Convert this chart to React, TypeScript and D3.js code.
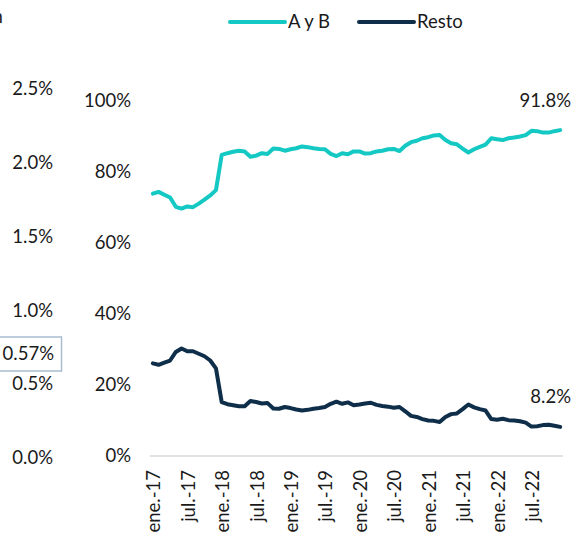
import * as d3 from 'd3';
import { useRef, useEffect } from 'react';

// share of total, Jan 2017 .. Dec 2022 (monthly)
const ayb = [
  73.9, 74.4, 73.6, 72.8, 70.2, 69.7, 70.3, 70.1, 71.1, 72.2, 73.4, 74.9,
  84.8, 85.3, 85.7, 86.0, 85.8, 84.3, 84.6, 85.3, 85.1, 86.6, 86.5, 86.0,
  86.4, 86.7, 87.2, 87.0, 86.7, 86.5, 86.4, 85.1, 84.5, 85.3, 85.0, 85.8,
  85.8, 85.2, 85.3, 85.8, 86.0, 86.4, 86.5, 85.9, 87.4, 88.4, 88.8, 89.5,
  89.8, 90.3, 90.4, 89.0, 88.1, 87.8, 86.6, 85.5, 86.4, 87.1, 87.7, 89.5,
  89.2, 89.0, 89.5, 89.7, 90.0, 90.4, 91.6, 91.5, 91.1, 91.1, 91.5, 91.8,
];
const resto = [
  26.1, 25.7, 26.3, 26.9, 29.3, 30.3, 29.5, 29.5, 28.8, 28.1, 26.9, 24.7,
  15.2, 14.6, 14.3, 14.0, 14.0, 15.5, 15.2, 14.8, 14.9, 13.4, 13.3, 13.8,
  13.5, 13.1, 12.8, 13.0, 13.3, 13.5, 13.8, 14.7, 15.3, 14.7, 15.1, 14.3,
  14.5, 14.8, 15.0, 14.4, 14.1, 13.9, 13.6, 13.8, 12.6, 11.3, 11.0, 10.4,
  10.0, 9.9, 9.6, 11.0, 11.8, 12.0, 13.2, 14.5, 13.7, 13.2, 12.8, 10.4,
  10.2, 10.5, 10.1, 10.0, 9.8, 9.4, 8.3, 8.4, 8.7, 8.8, 8.5, 8.2,
];
const tickLabels = [
  'ene.-17', 'jul.-17', 'ene.-18', 'jul.-18', 'ene.-19', 'jul.-19',
  'ene.-20', 'jul.-20', 'ene.-21', 'jul.-21', 'ene.-22', 'jul.-22',
];
const yTicks = [0, 20, 40, 60, 80, 100];
// axis of the neighbouring chart, cut off at the left edge
const leftTicks = [0, 0.5, 1.0, 1.5, 2.0, 2.5];
const leftBoxValue = '0.57%';

const months = d3.timeMonths(new Date(2017, 0, 1), new Date(2023, 0, 1));

const W = 578;
const H = 537;
const FONT = 'Lato, sans-serif';
const TEAL = '#14C8C3';
const NAVY = '#0E2E4A';

const App = () => {
  const svgRef = useRef<SVGSVGElement | null>(null);

  useEffect(() => {
    const svg = d3.select(svgRef.current);
    svg.selectAll('*').remove();

    const x = d3.scaleBand<number>()
      .domain(months.map((_, i) => i))
      .range([150, 563]);
    const cx = (i: number) => x(i)! + x.bandwidth() / 2;
    const y = d3.scaleLinear().domain([0, 100]).range([456, 101]);
    const yLeft = d3.scaleLinear().domain([0, 2.5]).range([457.5, 89]);

    const g = svg.append('g').attr('font-family', FONT).attr('font-size', 18.5).attr('fill', '#1a1a1a');

    // cut-off title fragment
    g.append('text').attr('x', -7.5).attr('y', 23).text('n');

    // left (neighbour) axis
    g.selectAll('.lt')
      .data(leftTicks)
      .enter()
      .append('text')
      .attr('x', 53)
      .attr('y', (d) => yLeft(d))
      .attr('dy', '0.35em')
      .attr('text-anchor', 'end')
      .text((d) => d.toFixed(1) + '%');

    g.append('rect')
      .attr('x', -1)
      .attr('y', 337)
      .attr('width', 62.5)
      .attr('height', 34)
      .attr('fill', '#fff')
      .attr('stroke', '#a9bcd0')
      .attr('stroke-width', 1.5);
    g.append('text')
      .attr('x', 54)
      .attr('y', 354)
      .attr('dy', '0.35em')
      .attr('text-anchor', 'end')
      .text(leftBoxValue);

    // main y axis labels
    g.selectAll('.yt')
      .data(yTicks)
      .enter()
      .append('text')
      .attr('x', 131)
      .attr('y', (d) => y(d))
      .attr('dy', '0.35em')
      .attr('text-anchor', 'end')
      .text((d) => d + '%');

    // baseline
    g.append('line')
      .attr('x1', 150)
      .attr('x2', 563)
      .attr('y1', y(0))
      .attr('y2', y(0))
      .attr('stroke', '#d9d9d9')
      .attr('stroke-width', 1.5);

    // x labels every 6 months
    g.selectAll('.xt')
      .data(tickLabels)
      .enter()
      .append('text')
      .attr('transform', (_, i) => `translate(${cx(i * 6) + 1},470) rotate(-90)`)
      .attr('dy', '0.35em')
      .attr('text-anchor', 'end')
      .text((d) => d);

    const line = d3.line<number>()
      .x((_, i) => cx(i))
      .y((d) => y(d));

    svg.append('path')
      .datum(ayb)
      .attr('d', line)
      .attr('fill', 'none')
      .attr('stroke', TEAL)
      .attr('stroke-width', 4)
      .attr('stroke-linejoin', 'round')
      .attr('stroke-linecap', 'round');
    svg.append('path')
      .datum(resto)
      .attr('d', line)
      .attr('fill', 'none')
      .attr('stroke', NAVY)
      .attr('stroke-width', 4)
      .attr('stroke-linejoin', 'round')
      .attr('stroke-linecap', 'round');

    // end labels
    const last = months.length - 1;
    g.append('text')
      .attr('x', 571)
      .attr('y', 101)
      .attr('dy', '0.35em')
      .attr('text-anchor', 'end')
      .text(ayb[last].toFixed(1) + '%');
    g.append('text')
      .attr('x', 571)
      .attr('y', 397)
      .attr('dy', '0.35em')
      .attr('text-anchor', 'end')
      .text(resto[last].toFixed(1) + '%');

    // legend
    const legend = [
      { name: 'A y B', color: TEAL, x: 230 },
      { name: 'Resto', color: NAVY, x: 359 },
    ];
    legend.forEach((l) => {
      g.append('line')
        .attr('x1', l.x)
        .attr('x2', l.x + 55)
        .attr('y1', 22)
        .attr('y2', 22)
        .attr('stroke', l.color)
        .attr('stroke-width', 4)
        .attr('stroke-linecap', 'round');
      g.append('text')
        .attr('x', l.x + 58)
        .attr('y', 22)
        .attr('dy', '0.35em')
        .text(l.name);
    });
  }, []);

  return (
    <div style={{ position: 'absolute', left: 0, top: 0 }}>
      <svg ref={svgRef} width={W} height={H} style={{ display: 'block' }} />
    </div>
  );
};

export default App;
